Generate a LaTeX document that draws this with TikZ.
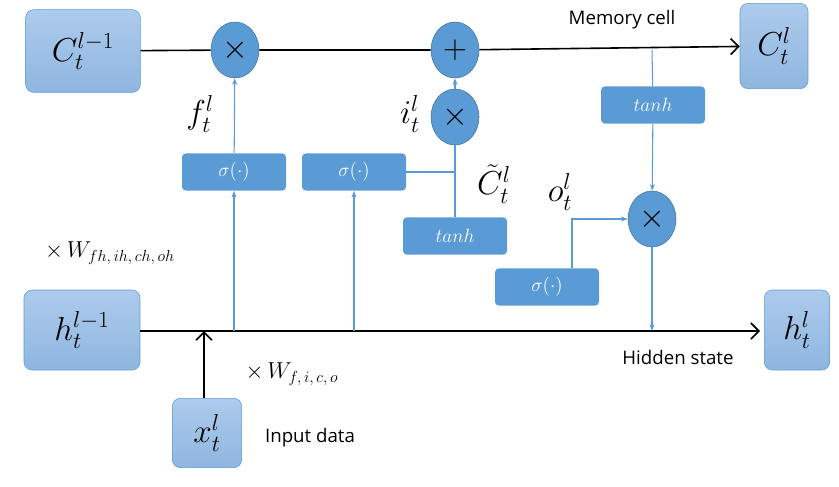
\documentclass[tikz,border=0pt]{standalone}
\usepackage{amsmath}
\usepackage{fontspec}
\newfontfamily\labelfont{Open Sans}
\usepackage{tikz}
\usetikzlibrary{arrows.meta, calc, positioning, shapes.geometric}
\definecolor{boxline}{HTML}{5B9BD5}
\definecolor{boxtop}{HTML}{ADCBEC}
\definecolor{boxbot}{HTML}{8FB6E0}
\definecolor{gatefill}{HTML}{5B9BD5}
\definecolor{opline}{HTML}{41719C}

\begin{document}
\begin{tikzpicture}[x=0.75pt, y=-0.75pt,
	state/.style={draw=boxline, rounded corners=6pt, top color=boxtop, bottom color=boxbot, inner sep=0pt, font=\fontsize{26}{30}\selectfont},
	gate/.style={fill=gatefill, rounded corners=3pt, minimum width=78pt, minimum height=28pt, text=white, inner sep=0pt, font=\fontsize{15}{18}\selectfont},
	op/.style={ellipse, draw=opline, fill=gatefill, minimum width=36pt, minimum height=42pt, inner sep=0pt, font=\fontsize{26}{30}\selectfont},
	flow/.style={boxline, thick, -{Stealth[length=5pt]}},
	main/.style={black, line width=1.2pt, -{Straight Barb[length=6pt]}},
	lab/.style={font=\fontsize{26}{30}\selectfont},
	txt/.style={font=\labelfont\fontsize{14}{17}\selectfont}]

	\useasboundingbox (0,0) rectangle (839,486);

	% cell and hidden states
	\node[state, minimum width=86pt, minimum height=62pt] (Cprev) at (83,51) {$C_t^{l-1}$};
	\node[state, minimum width=51pt, minimum height=64pt] (Cnow) at (774,46) {$C_t^{l}$};
	\node[state, minimum width=87pt, minimum height=60pt] (hprev) at (82,330) {$h_t^{l-1}$};
	\node[state, minimum width=49pt, minimum height=60pt] (hnow) at (797,330) {$h_t^{l}$};
	\node[state, minimum width=52pt, minimum height=52pt] (xin) at (207,433) {$x_t^{l}$};

	% operators
	\node[op] (mulf) at (235,50) {$\times$};
	\node[op] (add) at (455,50) {$+$};
	\node[op] (muli) at (455,117) {$\times$};
	\node[op] (mulo) at (652,219) {$\times$};

	% gates
	\node[gate] (sigf) at (234,172) {$\sigma(\cdot)$};
	\node[gate] (sigi) at (354,172) {$\sigma(\cdot)$};
	\node[gate] (tanc) at (455,236) {$tanh$};
	\node[gate] (tanm) at (653,105) {$tanh$};
	\node[gate] (sigo) at (547,287) {$\sigma(\cdot)$};

	\coordinate (hend) at (760,331);
	\coordinate (hf) at (234,331);
	\coordinate (hi) at (354,331);
	\coordinate (hx) at (204,331);
	\coordinate (cm) at (652,50);
	\coordinate (ho) at (652,331);
	\coordinate (ij) at (455,172);
	\coordinate (oc) at (572,219);

	\draw[black, line width=1.2pt] (Cprev) -- (mulf) -- (add);
	\draw[main] (add) -- (Cnow);
	\draw[main] (hprev.east |- hend) -- (hend);
	\draw[main] (xin.north -| hx) -- (hx);

	\draw[flow] (hf) -- (sigf);
	\draw[flow] (sigf) -- (mulf);
	\draw[flow] (hi) -- (sigi);
	\draw[boxline, thick] (sigi.east) -- (ij);
	\draw[boxline, thick] (tanc) -- (muli);
	\draw[flow] (muli) -- (add);
	\draw[boxline, thick] (cm) -- (tanm);
	\draw[flow] (tanm) -- (mulo);
	\draw[flow] (mulo) -- (ho);
	\draw[flow] (sigo.north -| oc) -- (oc) -- (mulo);

	% labels
	\node[lab] (lf) at (200,114) {$f_t^{l}$};
	\node[lab] (li) at (410,114) {$i_t^{l}$};
	\node[lab] (lc) at (494,184) {$\tilde{C}_t^{l}$};
	\node[lab] (lo) at (560,192) {$o_t^{l}$};
	\node[txt] (mem) at (622,20) {Memory cell};
	\node[txt] (hid) at (678,357) {Hidden state};
	\node[txt] (inp) at (310,438) {Input data};
	\node[font=\fontsize{17}{20}\selectfont] (wh) at (110,253) {$\times\,W_{fh,\,ih,\,ch,\,oh}$};
	\node[font=\fontsize{17}{20}\selectfont] (wx) at (292,374) {$\times\,W_{f,\,i,\,c,\,o}$};

\end{tikzpicture}
\end{document}
